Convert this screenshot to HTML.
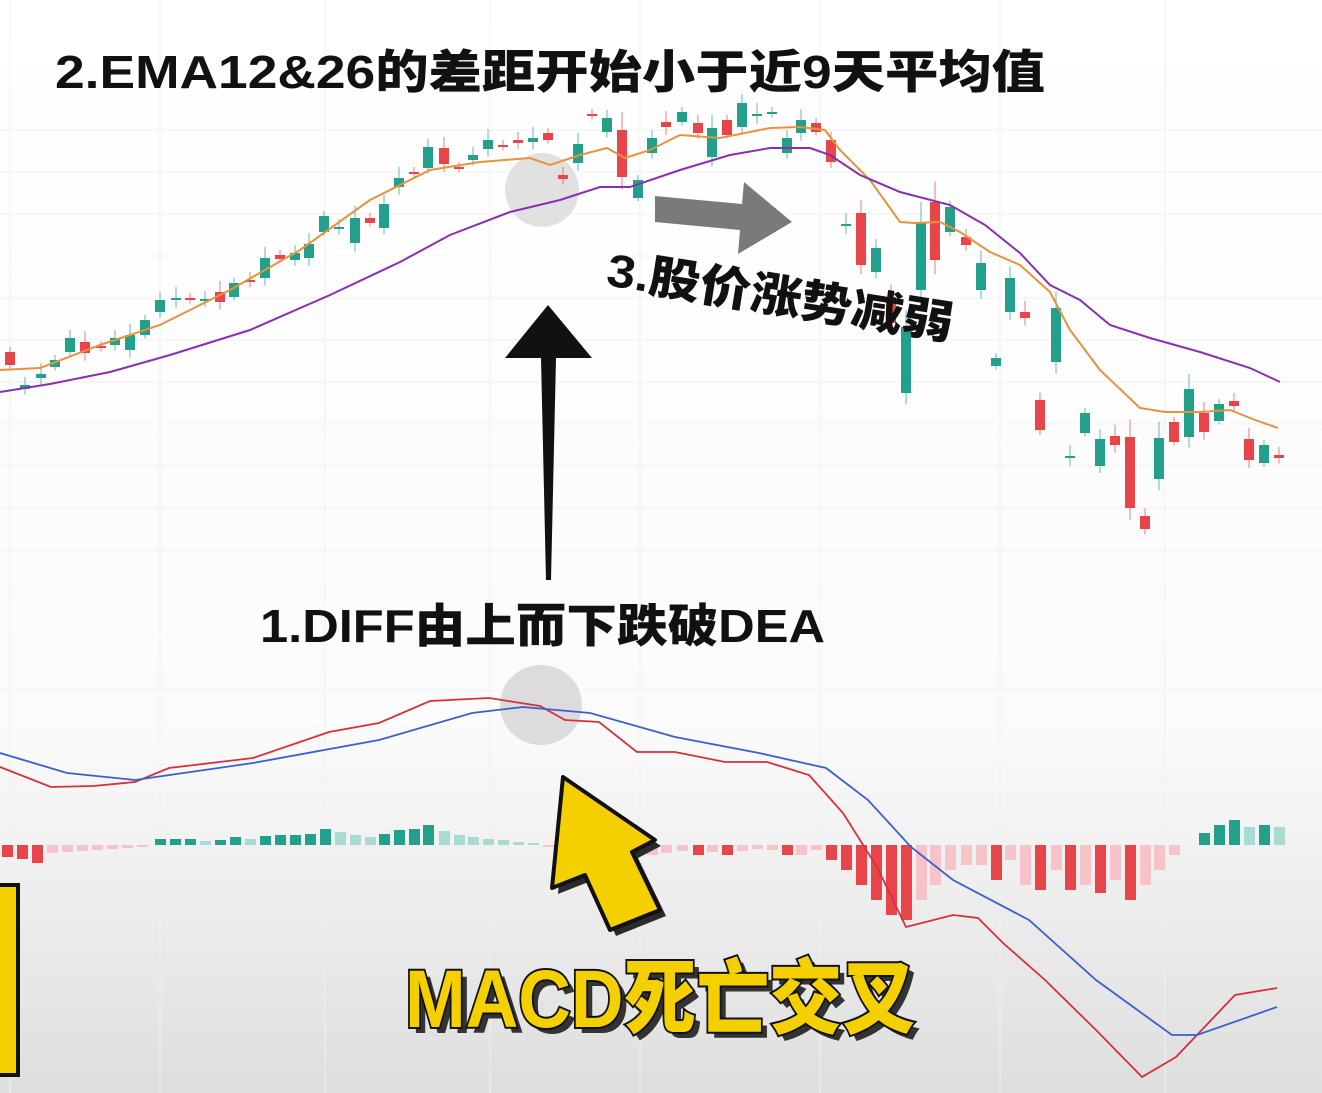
<!DOCTYPE html>
<html><head><meta charset="utf-8"><style>
html,body{margin:0;padding:0;background:#fff;}
svg{display:block;}
.t{font-family:"Liberation Sans","Noto Sans CJK SC",sans-serif;font-weight:900;}
</style></head><body>
<svg id="s" width="1322" height="1093" viewBox="0 0 1322 1093" xmlns="http://www.w3.org/2000/svg">
<defs>
<linearGradient id="bg" x1="0" y1="0" x2="0" y2="1">
<stop offset="0" stop-color="#ffffff"/><stop offset="0.66" stop-color="#fbfbfb"/><stop offset="1" stop-color="#dedede"/>
</linearGradient>
</defs>
<rect width="1322" height="1093" fill="url(#bg)"/>
<g id="grid" stroke="#f0f0f0" stroke-width="1"></g>
<circle cx="542" cy="190" r="37" fill="#d9d9d9" opacity="0.8"/>
<g id="candles"></g>
<polyline fill="none" stroke="#e8923a" stroke-width="2" points="0,370 40,368 100,345 160,325 230,290 300,250 370,200 430,170 480,162 530,158 550,165 580,155 607,148 625,158 650,150 680,135 720,138 770,128 800,127 825,130 840,150 870,180 900,222 915,223 940,222 960,232 990,252 1020,265 1050,292 1070,330 1100,370 1140,408 1165,412 1200,412 1230,410 1255,420 1278,428"/>
<polyline fill="none" stroke="#8a2fb0" stroke-width="2" points="0,392 50,384 110,372 170,355 250,330 330,295 400,262 450,235 510,212 560,200 600,187 630,187 680,170 730,155 770,148 810,148 830,155 860,175 900,192 950,205 985,225 1020,253 1050,285 1080,300 1110,325 1150,338 1200,352 1250,368 1280,382"/>
<ellipse cx="541" cy="705" rx="41" ry="40" fill="#d6d6d6" opacity="0.85"/>
<g id="hist"></g>
<polyline fill="none" stroke="#d8303a" stroke-width="1.8" points="0,767 51,787 93,786 135,782 169,768 253,758 329,732 379,723 430,701 489,698 540,706 565,720 599,722 637,752 675,752 725,762 767,762 809,775 843,813 877,867 906,927 953,915 978,918 1003,943 1045,980 1096,1030 1142,1077 1176,1057 1235,995 1277,988"/>
<polyline fill="none" stroke="#3a5fd0" stroke-width="1.8" points="0,753 67,773 135,780 253,763 379,740 472,713 523,707 590,713 675,737 759,753 826,768 868,800 911,847 953,880 1029,920 1096,980 1172,1035 1197,1035 1277,1007"/>
<!-- black up arrow -->
<polygon points="505,358 548,305 592,358 556,358 551,580 546,580 541,358" fill="#111"/>
<!-- gray right arrow -->
<polygon points="655,196 742,204 744,182 792,222 738,254 740,230 655,222" fill="#7a7a7a"/>
<!-- yellow arrow -->
<polygon points="563,777 655,840 632,852 660,910 610,930 585,875 552,888" fill="#2a2a2a" transform="translate(6,6)"/>
<polygon points="563,777 655,840 632,852 660,910 610,930 585,875 552,888" fill="#f5d000" stroke="#111" stroke-width="4" stroke-linejoin="round"/>
<rect x="-4" y="885" width="22" height="190" fill="#f5d000" stroke="#111" stroke-width="4"/>
<text class="t" x="55" y="88" font-size="46" textLength="990" lengthAdjust="spacingAndGlyphs" fill="#111">2.EMA12&amp;26的差距开始小于近9天平均值</text>
<text class="t" x="0" y="0" font-size="46" textLength="350" lengthAdjust="spacingAndGlyphs" fill="#111" transform="translate(605,285) rotate(9)">3.股价涨势减弱</text>
<text class="t" x="260" y="642" font-size="46" textLength="565" lengthAdjust="spacingAndGlyphs" fill="#111">1.DIFF由上而下跌破DEA</text>
<text class="t" x="411" y="1033" font-size="82" textLength="510" lengthAdjust="spacingAndGlyphs" fill="#333">MACD死亡交叉</text>
<text class="t" x="405" y="1027" font-size="82" textLength="510" lengthAdjust="spacingAndGlyphs" fill="#f5d000" stroke="#111" stroke-width="4" paint-order="stroke">MACD死亡交叉</text>
</svg>
<script>
var NS="http://www.w3.org/2000/svg";
function el(p,t,a){var e=document.createElementNS(NS,t);for(var k in a)e.setAttribute(k,a[k]);p.appendChild(e);return e;}
var g=document.getElementById("grid");
[10,160,325,490,640,820,1000,1165].forEach(function(x){el(g,"line",{x1:x,y1:0,x2:x,y2:1093});});
for(var y=130;y<600;y+=42)el(g,"line",{x1:0,y1:y,x2:1322,y2:y});
el(g,"line",{x1:0,y1:690,x2:1322,y2:690});
// candles: x, top, bottom, color(g/r)
var C=[[10,352,365,'r'],[25,385,389,'g'],[41,374,378,'g'],[55,360,367,'g'],[70,338,352,'g'],[85,342,353,'r'],[101,346,348,'r'],[115,338,345,'g'],[130,335,350,'g'],[145,320,335,'g'],[160,300,312,'g'],[176,298,300,'g'],[190,298,300,'r'],[205,299,301,'g'],[220,292,302,'r'],[234,283,297,'g'],[250,280,282,'r'],[265,258,278,'g'],[280,255,259,'r'],[295,253,260,'g'],[309,244,258,'g'],[324,216,232,'g'],[339,227,229,'g'],[355,218,243,'g'],[370,218,223,'r'],[384,204,228,'g'],[399,178,187,'g'],[414,172,174,'r'],[428,147,168,'g'],[444,148,164,'r'],[459,167,169,'r'],[473,155,160,'g'],[488,140,149,'g'],[503,145,147,'r'],[518,140,143,'r'],[533,138,142,'g'],[548,133,140,'r'],[563,175,179,'r'],[578,144,163,'g'],[592,114,116,'r'],[607,118,132,'g'],[622,130,177,'r'],[638,180,198,'g'],[652,138,153,'g'],[666,122,127,'r'],[682,112,122,'g'],[698,123,133,'r'],[712,128,157,'g'],[727,120,135,'r'],[742,103,127,'g'],[757,114,116,'g'],[772,112,114,'g'],[787,138,153,'g'],[801,120,133,'g'],[816,123,132,'r'],[831,140,162,'r'],[846,224,226,'g'],[861,213,265,'r'],[876,248,272,'g'],[891,297,323,'r'],[906,327,393,'g'],[921,222,290,'g'],[935,202,260,'r'],[950,207,232,'g'],[966,237,245,'r'],[981,263,290,'g'],[996,358,366,'g'],[1010,278,312,'g'],[1025,312,318,'r'],[1040,400,430,'r'],[1056,308,362,'g'],[1070,456,458,'g'],[1085,413,433,'g'],[1100,439,466,'g'],[1115,436,445,'r'],[1130,437,508,'r'],[1145,516,529,'r'],[1159,438,479,'g'],[1174,422,442,'r'],[1189,389,437,'g'],[1204,413,432,'r'],[1219,404,421,'g'],[1234,401,406,'r'],[1249,439,460,'r'],[1264,445,463,'g'],[1279,455,458,'r']];
var cg=document.getElementById("candles");
C.forEach(function(c,i){var col=c[3]=='g'?'#22a08c':'#e8454a';var h=c[2]-c[1];var wk=Math.max(5,h*0.25)+(i%3)*3;
el(cg,"line",{x1:c[0],y1:c[1]-wk,x2:c[0],y2:c[2]+wk*0.7,stroke:col,"stroke-width":1,opacity:0.7});
el(cg,"rect",{x:c[0]-5,y:c[1],width:10,height:Math.max(2,h),fill:col});});
// histogram: x, value (neg = up green)
var H=[[7,12],[22,14],[37,18],[52,8],[67,7],[82,6],[97,5],[112,4],[127,3],[142,2],[160,-6],[175,-6],[190,-6],[205,-4],[220,-5],[235,-8],[250,-6],[265,-9],[280,-10],[295,-10],[310,-11],[325,-16],[340,-13],[355,-10],[370,-8],[384,-11],[399,-15],[414,-16],[428,-20],[444,-14],[459,-10],[473,-8],[488,-6],[503,-5],[518,-3],[533,-2],[548,2],[563,3],[578,4],[592,5],[607,6],[622,8],[638,10],[652,10],[666,8],[682,6],[698,10],[712,7],[727,10],[742,6],[757,4],[772,5],[787,10],[801,10],[816,5],[831,15],[846,25],[861,40],[876,55],[891,70],[906,75],[921,55],[935,40],[950,25],[966,20],[981,20],[996,35],[1010,15],[1025,40],[1040,45],[1056,25],[1070,45],[1085,40],[1100,48],[1115,35],[1130,55],[1145,40],[1159,25],[1174,10],[1204,-12],[1219,-20],[1234,-25],[1249,-18],[1264,-20],[1279,-18]];
var strong={7:1,22:1,37:1,160:1,175:1,190:1,220:1,235:1,265:1,280:1,295:1,310:1,325:1,384:1,399:1,414:1,428:1,698:1,727:1,787:1,831:1,846:1,861:1,876:1,891:1,906:1,996:1,1040:1,1070:1,1100:1,1130:1,1204:1,1219:1,1234:1,1264:1};
var hg=document.getElementById("hist");var base=845;
H.forEach(function(b){var v=b[1];var s=strong[b[0]];var col=v<0?(s?'#22a08c':'#a8dcd2'):(s?'#e8454a':'#f6c4c8');
el(hg,"rect",{x:b[0]-5,y:v<0?base+v:base,width:11,height:Math.abs(v),fill:col});});
</script>
</body></html>
